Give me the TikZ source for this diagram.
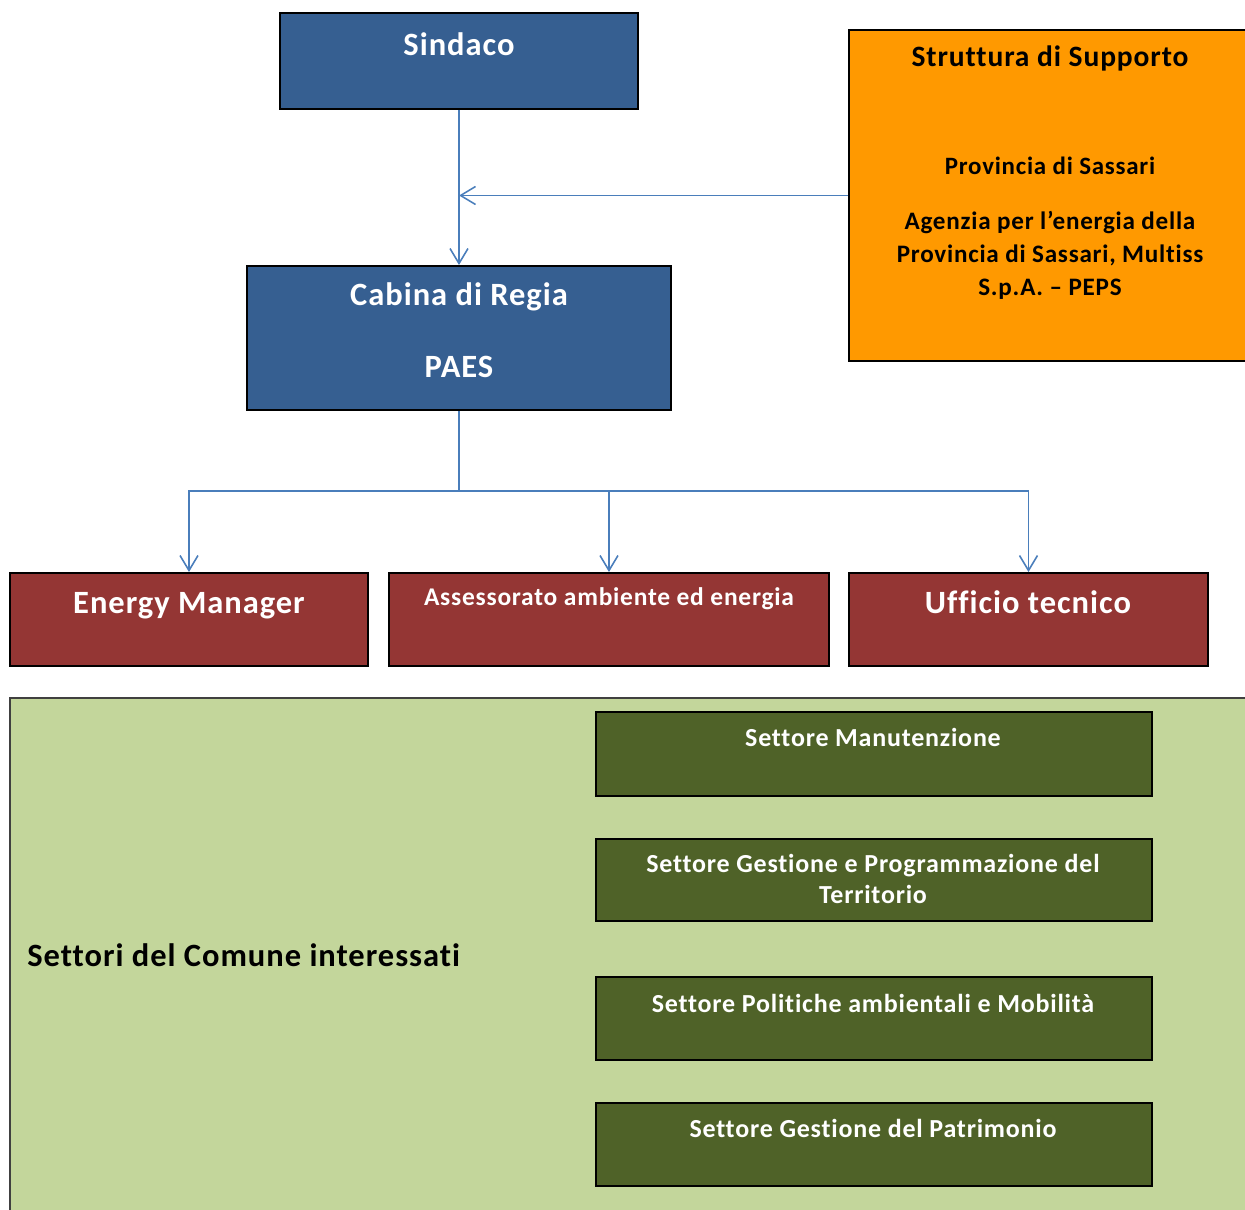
\documentclass[tikz,border=0pt]{standalone}
\usepackage{fontspec}
\setmainfont{Carlito}[LetterSpace=3, Ligatures=NoCommon]
\usepackage{tikz}
\usetikzlibrary{arrows.meta, positioning, calc, fit}

\definecolor{bluPAES}{RGB}{54,95,145}
\definecolor{rossoPAES}{RGB}{148,54,52}
\definecolor{arancio}{RGB}{255,153,0}
\definecolor{verdeChiaro}{RGB}{195,214,155}
\definecolor{verdeScuro}{RGB}{79,98,40}
\definecolor{lineaBlu}{RGB}{74,126,187}

\tikzset{
    box/.style={draw=black, line width=1.1pt, inner sep=0pt},
    testo/.style={inner sep=0pt, anchor=base, align=center, font=\bfseries},
    linea/.style={draw=lineaBlu, line width=0.9pt},
    freccia/.style={linea, -{Straight Barb[length=0.3cm, width=0.36cm]}}
}

\begin{document}
\begin{tikzpicture}[x=0.02cm, y=-0.02cm]
    \useasboundingbox (0,0) rectangle (1245,1210);

    % Vertice
    \node[box, fill=bluPAES, fit={(280,13) (638,109)}] (sindaco) {};
    \node[testo, text=white, font=\bfseries\fontsize{18.5}{22}\selectfont] (sindacoT) at (459,55) {Sindaco};
    \node[box, fill=bluPAES, fit={(247,266) (671,410)}] (cabina) {};
    \node[testo, text=white, font=\bfseries\fontsize{18.5}{22}\selectfont] (cabinaT) at (459,305) {Cabina di Regia};
    \node[testo, text=white, font=\bfseries\fontsize{18.5}{22}\selectfont] (paesT) at (459,377) {PAES};

    % Struttura di supporto
    \node[box, fill=arancio, fit={(849,30) (1250,361)}] (supporto) {};
    \node[testo, font=\bfseries\fontsize{16.8}{20}\selectfont] (supportoT) at (1050,66) {Struttura di Supporto};
    \node[testo, font=\bfseries\fontsize{14.2}{18.5}\selectfont] (provinciaT) at (1050,174) {Provincia di Sassari};
    \node[testo, font=\bfseries\fontsize{14.3}{18.5}\selectfont] (agenziaT) at (1050,295)
        {Agenzia per l’energia della\\Provincia di Sassari, Multiss\\S.p.A. – PEPS};

    % Uffici
    \node[box, fill=rossoPAES, fit={(10,573) (368,666)}] (energy) {};
    \node[testo, text=white, font=\bfseries\fontsize{18.5}{22}\selectfont] (energyT) at (189,613) {Energy Manager};
    \node[box, fill=rossoPAES, fit={(389,573) (829,666)}] (assessorato) {};
    \node[testo, text=white, font=\bfseries\fontsize{14.5}{18}\selectfont] (assessoratoT) at (609,605) {Assessorato ambiente ed energia};
    \node[box, fill=rossoPAES, fit={(849,573) (1208,666)}] (ufficio) {};
    \node[testo, text=white, font=\bfseries\fontsize{18.5}{22}\selectfont] (ufficioT) at (1028,613) {Ufficio tecnico};

    % Settori del Comune
    \node[box, draw=black!75, fill=verdeChiaro, fit={(10,698) (1260,1225)}] (settori) {};
    \node[testo, anchor=base west, font=\bfseries\fontsize{18.5}{22}\selectfont] (settoriT) at (27,966) {Settori del Comune interessati};
    \node[box, fill=verdeScuro, fit={(596,712) (1152,796)}] (manutenzione) {};
    \node[testo, text=white, font=\bfseries\fontsize{14.8}{17.6}\selectfont] (manutenzioneT) at (873,746) {Settore Manutenzione};
    \node[box, fill=verdeScuro, fit={(596,839) (1152,921)}] (territorio) {};
    \node[testo, text=white, font=\bfseries\fontsize{14.8}{17.6}\selectfont] (territorioT) at (873,903)
        {Settore Gestione e Programmazione del\\Territorio};
    \node[box, fill=verdeScuro, fit={(596,977) (1152,1060)}] (mobilita) {};
    \node[testo, text=white, font=\bfseries\fontsize{14.8}{17.6}\selectfont] (mobilitaT) at (873,1012) {Settore Politiche ambientali e Mobilità};
    \node[box, fill=verdeScuro, fit={(596,1103) (1152,1186)}] (patrimonio) {};
    \node[testo, text=white, font=\bfseries\fontsize{14.8}{17.6}\selectfont] (patrimonioT) at (873,1137) {Settore Gestione del Patrimonio};

    % Collegamenti
    \draw[freccia] (sindaco.south) -- (cabina.north);
    \draw[freccia] (supporto.west) -- (supporto.west -| sindaco.south);
    \coordinate (ramo) at (459,491);
    \draw[linea] (cabina.south) -- (ramo);
    \draw[freccia] (ramo) -| (energy.north);
    \draw[freccia] (ramo) -| (assessorato.north);
    \draw[freccia] (ramo) -| (ufficio.north);
\end{tikzpicture}
\end{document}
